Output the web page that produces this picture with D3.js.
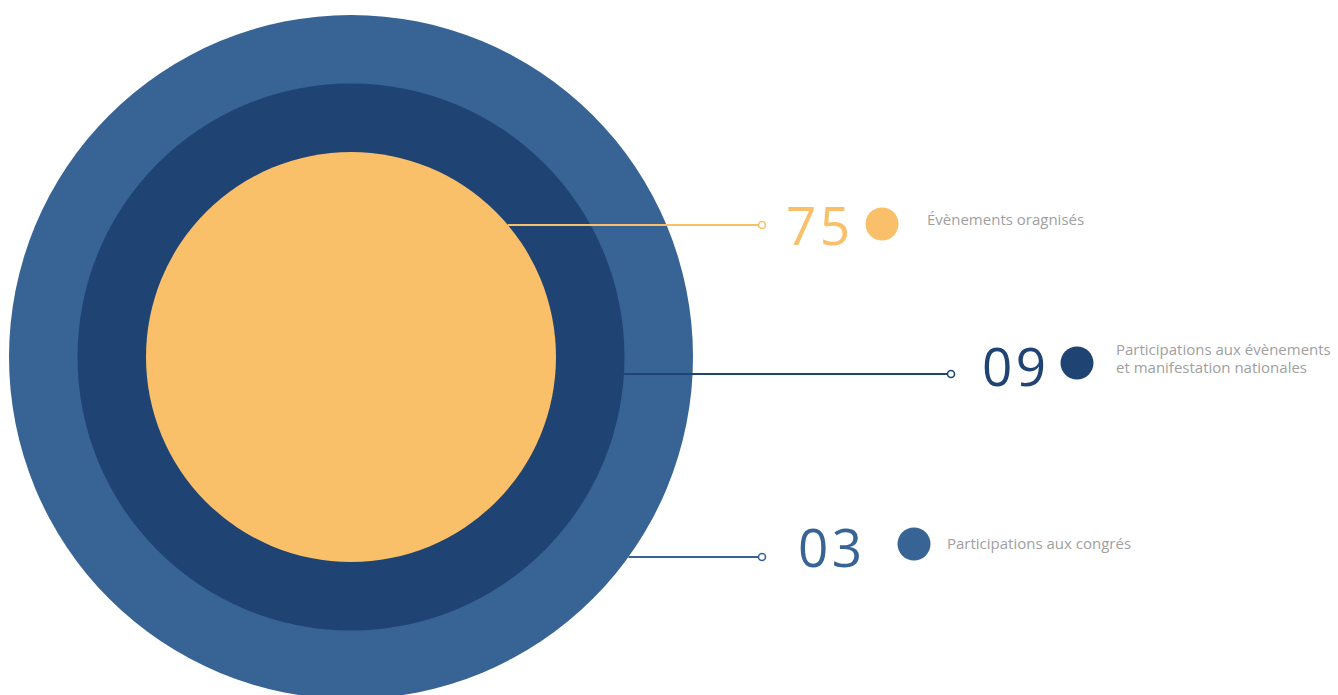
<!DOCTYPE html>
<html>
<head>
<meta charset="utf-8">
<script src="https://cdn.jsdelivr.net/npm/d3@7"></script>
<style>
  body { margin: 0; background: #fff; }
  svg { display: block; }
</style>
</head>
<body>
<div id="chart"></div>
<script>
const values = [75, 9, 3];
const valueLabels = ['75', '09', '03'];
const descriptions = [
  ['Évènements oragnisés'],
  ['Participations aux évènements', 'et manifestation nationales'],
  ['Participations aux congrés']
];
const colors = ['#f9bf69', '#1f4373', '#386395'];

const width = 1338, height = 695;
const cx = 351, cy = 357;

// label layout for each ring (inner -> outer)
const layout = [
  { y: 225, endX: 762, numX: 786, numY: 245, dotX: 882, dotY: 224, textX: 927, textY: 225 },
  { y: 374, endX: 951, numX: 982, numY: 386, dotX: 1077, dotY: 363, textX: 1116, textY: 355 },
  { y: 557, endX: 762, numX: 798, numY: 567, dotX: 914, dotY: 544, textX: 947, textY: 549 }
];

const radius = d3.scalePoint()
  .domain(d3.range(values.length))
  .range([205, 342]);

const svg = d3.select('#chart')
  .append('svg')
  .attr('width', width)
  .attr('height', height);

const rings = svg.append('g')
  .attr('transform', `translate(${cx}, ${cy})`);

// draw outer first
rings.selectAll('circle')
  .data(d3.range(values.length).reverse())
  .enter()
  .append('circle')
  .attr('r', i => radius(i))
  .attr('fill', i => colors[i]);

const labels = svg.selectAll('g.label')
  .data(values)
  .enter()
  .append('g')
  .attr('class', 'label');

labels.append('line')
  .attr('x1', (d, i) => {
    const dy = layout[i].y - cy;
    const r = radius(i);
    return cx + Math.sqrt(r * r - dy * dy);
  })
  .attr('x2', (d, i) => layout[i].endX - 4)
  .attr('y1', (d, i) => layout[i].y)
  .attr('y2', (d, i) => layout[i].y)
  .attr('stroke', (d, i) => colors[i])
  .attr('stroke-width', 2);

labels.append('circle')
  .attr('cx', (d, i) => layout[i].endX)
  .attr('cy', (d, i) => layout[i].y)
  .attr('r', 3.5)
  .attr('fill', '#fff')
  .attr('stroke', (d, i) => colors[i])
  .attr('stroke-width', 1.6);

labels.append('text')
  .attr('x', (d, i) => layout[i].numX)
  .attr('y', (d, i) => layout[i].numY)
  .attr('font-family', '"Open Sans", sans-serif')
  .attr('font-weight', 400)
  .attr('font-size', 53)
  .attr('textLength', 64)
  .attr('fill', (d, i) => colors[i])
  .text((d, i) => valueLabels[i]);

labels.append('circle')
  .attr('cx', (d, i) => layout[i].dotX)
  .attr('cy', (d, i) => layout[i].dotY)
  .attr('r', 16.5)
  .attr('fill', (d, i) => colors[i]);

const desc = labels.append('text')
  .attr('x', (d, i) => layout[i].textX)
  .attr('y', (d, i) => layout[i].textY)
  .attr('font-family', '"Open Sans", sans-serif')
  .attr('font-size', 15)
  .attr('fill', '#a0a0a0');

desc.selectAll('tspan')
  .data((d, i) => descriptions[i])
  .enter()
  .append('tspan')
  .attr('x', function() { return this.parentNode.getAttribute('x'); })
  .attr('dy', (d, j) => j === 0 ? 0 : 18)
  .text(d => d);
</script>
</body>
</html>
